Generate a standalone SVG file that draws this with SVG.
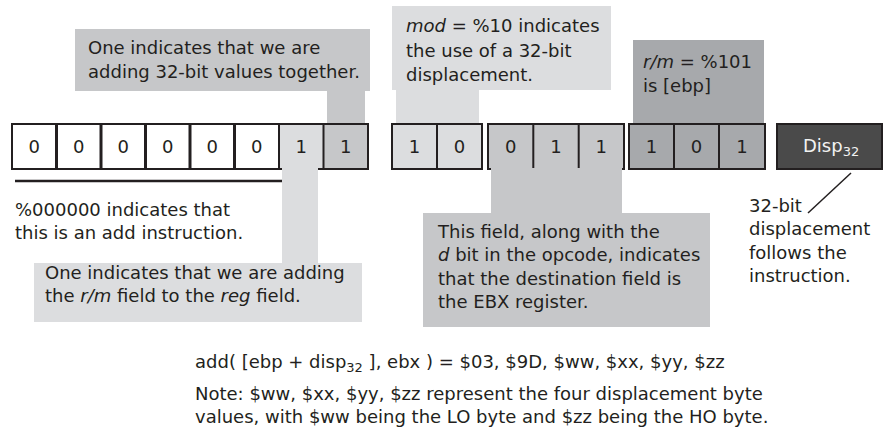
<svg xmlns="http://www.w3.org/2000/svg" width="884" height="443" viewBox="0 0 884 443">
<style>
.t{font-family:"DejaVu Sans","Liberation Sans",sans-serif;font-size:18px;fill:#231f20}
.d{font-family:"DejaVu Sans","Liberation Sans",sans-serif;font-size:18px;fill:#231f20;text-anchor:middle}
.lt{fill:#dcdddf}
.md{fill:#c6c7c9}
.dk{fill:#a7a9ac}
.ol{fill:none;stroke:#231f20;stroke-width:2}
.dv{stroke:#231f20;stroke-width:2}
.dvt{stroke:#231f20;stroke-width:3}
.i{font-style:italic}
</style>
<rect width="884" height="443" fill="#ffffff"/>

<g id="callout-32bit">
<rect class="md" x="75" y="29" width="295" height="62"/>
<rect class="md" x="327" y="90" width="38" height="35"/>
<text class="t" x="88" y="54">One indicates that we are</text>
<text class="t" x="88" y="77.5">adding 32-bit values together.</text>
</g>

<g id="callout-mod">
<rect class="lt" x="392" y="6" width="219" height="84"/>
<rect class="lt" x="396" y="89" width="83" height="36"/>
<text class="t" x="406" y="32"><tspan class="i">mod</tspan> = %10 indicates</text>
<text class="t" x="406" y="56.5">the use of a 32-bit</text>
<text class="t" x="406" y="81">displacement.</text>
</g>

<g id="callout-rm">
<rect class="dk" x="633" y="40" width="131" height="85"/>
<text class="t" x="643" y="68"><tspan class="i">r/m</tspan> = %101</text>
<text class="t" x="643" y="92">is [ebp]</text>
</g>

<g id="opcode-bits">
<rect x="12" y="124" width="267" height="45" fill="#ffffff"/>
<rect class="lt" x="279" y="124" width="44.5" height="45"/>
<rect class="md" x="323.5" y="124" width="44.5" height="45"/>
<rect class="ol" x="12" y="124" width="356" height="45"/>
<line class="dvt" x1="56.5" y1="124" x2="56.5" y2="169"/>
<line class="dvt" x1="101" y1="124" x2="101" y2="169"/>
<line class="dvt" x1="145.5" y1="124" x2="145.5" y2="169"/>
<line class="dvt" x1="190" y1="124" x2="190" y2="169"/>
<line class="dvt" x1="234.5" y1="124" x2="234.5" y2="169"/>
<line class="dv" x1="279" y1="124" x2="279" y2="169"/>
<line class="dv" x1="323.5" y1="124" x2="323.5" y2="169"/>
<text class="d" x="34.25" y="153">0</text>
<text class="d" x="78.75" y="153">0</text>
<text class="d" x="123.25" y="153">0</text>
<text class="d" x="167.75" y="153">0</text>
<text class="d" x="212.25" y="153">0</text>
<text class="d" x="256.75" y="153">0</text>
<text class="d" x="301.25" y="153">1</text>
<text class="d" x="345.75" y="153">1</text>
</g>

<g id="mod-bits">
<rect class="lt" x="392" y="124" width="90" height="45"/>
<rect class="ol" x="392" y="124" width="90" height="45"/>
<line class="dv" x1="437" y1="124" x2="437" y2="169"/>
<text class="d" x="414.5" y="153">1</text>
<text class="d" x="459.5" y="153">0</text>
</g>

<g id="reg-bits">
<rect class="md" x="488" y="124" width="136" height="45"/>
<rect class="ol" x="488" y="124" width="136" height="45"/>
<line class="dv" x1="533.3" y1="124" x2="533.3" y2="169"/>
<line class="dv" x1="578.7" y1="124" x2="578.7" y2="169"/>
<text class="d" x="510.7" y="153">0</text>
<text class="d" x="556" y="153">1</text>
<text class="d" x="601.3" y="153">1</text>
</g>

<g id="rm-bits">
<rect class="dk" x="629" y="124" width="136" height="45"/>
<rect class="ol" x="629" y="124" width="136" height="45"/>
<line class="dv" x1="674" y1="124" x2="674" y2="169"/>
<line class="dv" x1="719" y1="124" x2="719" y2="169"/>
<text class="d" x="651.5" y="153">1</text>
<text class="d" x="696.5" y="153">0</text>
<text class="d" x="742" y="153">1</text>
</g>

<g id="disp32">
<rect x="777" y="124" width="105" height="45" fill="#4a4a4a" stroke="#231f20" stroke-width="2"/>
<text class="t" x="803" y="152" style="fill:#f2f2f2">Disp<tspan font-size="13" dy="4">32</tspan></text>
</g>

<g id="note-add">
<text class="t" x="15" y="216">%000000 indicates that</text>
<text class="t" x="15" y="239">this is an add instruction.</text>
</g>

<g id="callout-d">
<rect class="lt" x="282" y="168" width="36" height="96"/>
<rect class="lt" x="34" y="263" width="328" height="59"/>
<text class="t" x="45" y="279">One indicates that we are adding</text>
<text class="t" x="45" y="302">the <tspan class="i">r/m</tspan> field to the <tspan class="i">reg</tspan> field.</text>
</g>

<g id="callout-reg">
<rect class="md" x="491" y="168" width="131" height="46"/>
<rect class="md" x="423" y="213" width="287" height="114"/>
<text class="t" x="438" y="238">This field, along with the</text>
<text class="t" x="438" y="261"><tspan class="i">d</tspan> bit in the opcode, indicates</text>
<text class="t" x="438" y="284.5">that the destination field is</text>
<text class="t" x="438" y="308">the EBX register.</text>
</g>

<g id="note-disp">
<text class="t" x="749" y="212">32-bit</text>
<text class="t" x="749" y="235">displacement</text>
<text class="t" x="749" y="258.5">follows the</text>
<text class="t" x="749" y="282">instruction.</text>
</g>

<g id="encoding">
<text class="t" x="195" y="368">add( [ebp + disp<tspan font-size="13" dy="4">32</tspan><tspan dy="-4"> ], ebx ) = $03, $9D, $ww, $xx, $yy, $zz</tspan></text>
<text class="t" x="195" y="400">Note: $ww, $xx, $yy, $zz represent the four displacement byte</text>
<text class="t" x="195" y="423">values, with $ww being the LO byte and $zz being the HO byte.</text>
</g>

<g id="connectors">
<line x1="15" y1="181" x2="282" y2="181" stroke="#231f20" stroke-width="2.5"/>
<line x1="851" y1="173" x2="808" y2="213" stroke="#231f20" stroke-width="1.5"/>
</g>
</svg>
